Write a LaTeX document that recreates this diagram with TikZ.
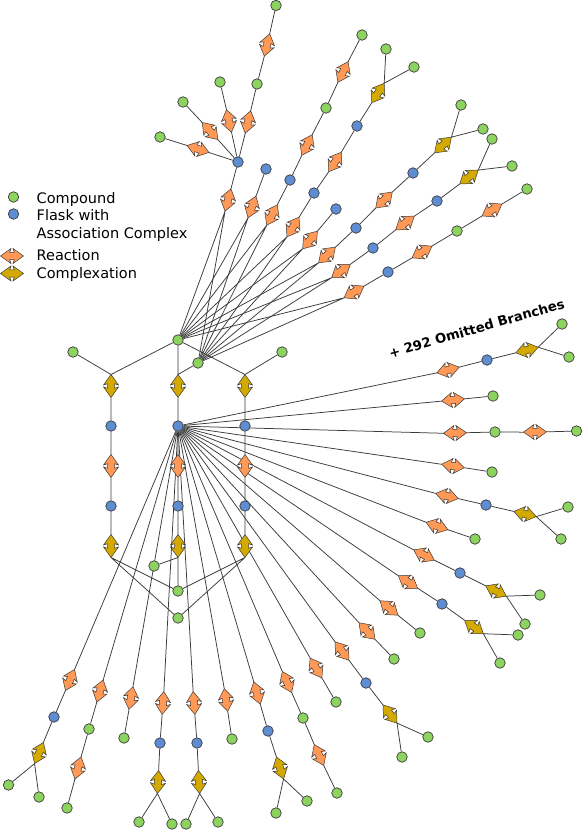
\documentclass[tikz,border=0pt]{standalone}
\usepackage{fontspec}
\newfontfamily\dejavu{DejaVu Sans}
\definecolor{cgreen}{HTML}{8DD35F}
\definecolor{cblue}{HTML}{5F8DD3}
\definecolor{corange}{HTML}{FF9955}
\definecolor{cgold}{HTML}{D4AA00}
\definecolor{cstroke}{HTML}{3A3A3A}
\pgfdeclarelayer{bg}
\pgfsetlayers{bg,main}
\tikzset{
  cmp/.style={circle, draw=cstroke, fill=cgreen, line width=0.7pt, minimum size=10.5pt, inner sep=0pt},
  flask/.style={circle, draw=cstroke, fill=cblue, line width=0.7pt, minimum size=10.5pt, inner sep=0pt},
  link/.style={draw=cstroke, line width=0.75pt},
  arwshape/.style={draw=cstroke, line width=0.5pt, line join=miter},
  legtext/.style={anchor=base west, inner sep=0pt, font=\dejavu\fontsize{14.5}{17}\selectfont}
}
% name, x, y, angle, colour
\newcommand\arw[5]{%
  \begin{scope}[shift={(#2,#3)}, rotate=#4]
    \filldraw[arwshape, fill=#5] (11.5,0) -- (1,7.5) -- (2.3,3.6) -- (-2.3,3.6) -- (-1,7.5) -- (-11.5,0)
      -- (-1,-7.5) -- (-2.3,-3.6) -- (2.3,-3.6) -- (1,-7.5) -- cycle;
    \coordinate (#1) at (0,0);
    \coordinate (#1-a) at (-11.5,0);
    \coordinate (#1-b) at (11.5,0);
  \end{scope}}
\newcommand\cpd[3]{\node[cmp] (#1) at (#2,#3) {};}
\newcommand\flk[3]{\node[flask] (#1) at (#2,#3) {};}
\newcommand\rxn[4]{\arw{#1}{#2}{#3}{#4}{corange}}
\newcommand\cpx[4]{\arw{#1}{#2}{#3}{#4}{cgold}}
\begin{document}
\begin{tikzpicture}[x=1pt,y=-1pt]
\useasboundingbox (0,0) rectangle (582,830);
\begin{pgfonlayer}{bg}
\fill[white] (0,0) rectangle (582,830);
\end{pgfonlayer}

% legend
\cpd{lg1}{13.5}{197}
\node[legtext] (lt1) at (36.5,203) {Compound};
\flk{lg2}{13.5}{214}
\node[legtext] (lt2) at (36.5,220) {Flask with};
\node[legtext] (lt3) at (36.5,238.5) {Association Complex};
\rxn{lg3}{12}{256}{0}
\node[legtext] (lt4) at (36.5,260) {Reaction};
\cpx{lg4}{12}{273.5}{0}
\node[legtext] (lt5) at (36.5,278) {Complexation};

\node[rotate=16, anchor=base, inner sep=0pt, font=\dejavu\bfseries\fontsize{13.2}{15}\selectfont] (om) at (478,333) {+ 292 Omitted Branches};

% central structure
\cpd{A}{178}{340}
\cpd{GL}{73}{352}
\cpd{GR}{282}{352}
\cpd{G2}{198}{363}
\cpx{xL1}{111}{386}{-90}
\cpx{xM1}{178}{386}{-90}
\cpx{xR1}{245}{386}{-90}
\flk{fL1}{111}{426}
\flk{B}{178}{426}
\flk{fR1}{245}{426}
\rxn{rL}{111}{466}{-90}
\rxn{rM}{178}{466}{-90}
\rxn{rR}{245}{466}{-90}
\flk{fL2}{111}{506}
\flk{fM2}{178}{506}
\flk{fR2}{245}{506}
\cpx{xL2}{111}{546}{-90}
\cpx{xM2}{178}{546}{-90}
\cpx{xR2}{245}{546}{-90}
\cpd{gB1}{154}{566}
\cpd{gB2}{178}{591}
\cpd{gB3}{178}{618}

% upper fan
\rxn{F1}{228}{200}{75.3}
\rxn{F2}{252}{207}{69.8}
\rxn{F3}{272}{215}{62.8}
\rxn{F4}{293}{227}{58.3}
\rxn{F5}{310}{240}{50}
\rxn{F6}{327}{255}{43}
\rxn{F7}{341}{271}{35.7}
\rxn{F8}{354}{292}{30.5}
\flk{C}{238}{162}
\rxn{u1}{198}{149}{162.2}
\cpd{gu1}{160}{137}
\rxn{u2}{210}{131}{132.5}
\cpd{gu2}{183}{102}
\rxn{u3}{229}{121}{102.7}
\cpd{gu3}{220}{82}
\rxn{u4}{248}{122}{76.3}
\cpd{gu4}{257}{84}
\rxn{u5}{267}{45}{76.5}
\cpd{gu5}{276}{5.5}
\flk{f2}{266}{169}
\flk{f3}{290}{180}
\rxn{v1}{307}{145}{63.4}
\cpd{gv1}{326}{108}
\rxn{v2}{343}{72}{63.7}
\cpd{gv2}{362}{35}
\flk{f4}{314}{193}
\rxn{w1}{335}{162}{57.3}
\flk{f4b}{357}{126}
\cpx{wx}{378}{93}{57.5}
\cpd{gw1}{386}{49}
\cpd{gw2}{414}{67}
\flk{f5}{336}{209}
\flk{f6}{356}{228}
\rxn{y1}{384}{200}{44}
\flk{f6b}{413}{173}
\cpx{yx}{443}{145}{43}
\cpd{gy1}{461}{105}
\cpd{gy2}{483}{129}
\flk{f7}{373}{248}
\rxn{z1}{405}{223}{36.3}
\flk{f7b}{437}{201}
\cpx{zx}{469}{177}{36.9}
\cpd{gz1}{492}{139}
\cpd{gz2}{512}{166}
\flk{f8}{388}{272}
\rxn{q1}{422}{252}{30.7}
\cpd{gq1}{457}{231}
\rxn{q2}{492}{210}{31}
\cpd{gq2}{527}{189}

% lower / right fan
\rxn{o1}{448}{370}{14.4}
\flk{fr1}{487}{360}
\cpx{k1}{527}{350}{14}
\cpd{gr1a}{562}{324}
\cpd{gr1b}{569}{357}
\rxn{o2}{453}{400}{5.7}
\cpd{gr2}{493}{396}
\rxn{o3}{455}{433}{1.4}
\cpd{gr3}{495}{432}
\rxn{p3}{535}{432}{0.7}
\cpd{gr3b}{576.5}{431}
\rxn{o4}{453}{466}{-8.7}
\cpd{gr4}{492}{472}
\rxn{o5}{447}{496}{-13}
\flk{fr5}{486}{505}
\cpx{k5}{525}{514}{-13}
\cpd{gr5a}{568}{507}
\cpd{gr5b}{561}{539}
\rxn{o6}{437}{526}{-18.9}
\cpd{gr6}{475}{539}
\rxn{o7}{424}{555}{-26.6}
\flk{fr7}{460}{573}
\cpx{k7}{496}{591}{-26.6}
\cpd{gr7a}{540}{595}
\cpd{gr7b}{525}{624}
\rxn{o8}{408}{582}{-32.9}
\flk{fr8}{442}{604}
\cpx{k8}{474}{627}{-35.7}
\cpd{gr8a}{518}{635}
\cpd{gr8b}{500}{663}
\rxn{o9}{389}{608}{-38.9}
\cpd{gr9}{420}{633}
\rxn{o10}{367}{631}{-46}
\cpd{gr10}{394}{659}
\rxn{o11}{342}{651}{-53.1}
\flk{fr11}{366}{683}
\cpx{k11}{390}{714}{-52.3}
\cpd{gr11a}{428}{737}
\cpd{gr11b}{402}{757}
\rxn{o12}{316}{668}{-59.5}
\cpd{gr12}{336}{702}
\rxn{o13}{287}{682}{-66}
\cpd{gr13}{303}{718}
\rxn{p13}{319}{755}{-65.6}
\cpd{gr13b}{337}{793}
\rxn{o14}{257}{693}{-73.9}
\flk{fr14}{268}{731}
\cpx{k14}{280}{768}{-72}
\cpd{gr14a}{276}{813}
\cpd{gr14b}{307}{801}
\rxn{o15}{226}{700}{-81.3}
\cpd{gr15}{232}{739}
\rxn{o16}{194}{703}{-85.7}
\flk{fr16}{197}{743}
\cpx{k16}{199}{782}{-87}
\cpd{gr16a}{186}{824}
\cpd{gr16b}{218}{822}
\rxn{o17}{163}{703}{-94.3}
\flk{fr17}{160}{743}
\cpx{k17}{158}{782}{-93}
\cpd{gr17a}{139}{822}
\cpd{gr17b}{172}{824}
\rxn{o18}{131}{698}{-99.9}
\cpd{gr18}{124}{738}
\rxn{o19}{100}{691}{-106}
\cpd{gr19}{89}{729}
\rxn{p19}{78}{768}{-105.6}
\cpd{gr19b}{67}{808}
\rxn{o20}{70}{680}{-113.4}
\flk{fr20}{54}{717}
\cpx{k20}{39}{753}{-112.6}
\cpd{gr20a}{8.5}{785}
\cpd{gr20b}{39}{797}

\begin{pgfonlayer}{bg}
% central
\draw[link] (GL) -- (xL1-a) (A) -- (xL1-a) (A) -- (xM1-a) (G2) -- (xM1-a) (A) -- (xR1-a) (GR) -- (xR1-a);
\draw[link] (xL1-b) -- (fL1) -- (rL-a) (rL-b) -- (fL2) -- (xL2-a) (xL2-b) -- (gB2) (xL2-b) -- (gB3);
\draw[link] (xM1-b) -- (B) -- (rM-a) (rM-b) -- (fM2) -- (xM2-a) (xM2-b) -- (gB1) (xM2-b) -- (gB2);
\draw[link] (xR1-b) -- (fR1) -- (rR-a) (rR-b) -- (fR2) -- (xR2-a) (xR2-b) -- (gB2) (xR2-b) -- (gB3);
% upper fan
\foreach \n in {F1,F2,F3,F4,F5,F6,F7,F8} {\draw[link] (A) -- (\n-a) (G2) -- (\n-a);}
\draw[link] (F1-b) -- (C);
\draw[link] (C) -- (u1-a) (u1-b) -- (gu1);
\draw[link] (C) -- (u2-a) (u2-b) -- (gu2);
\draw[link] (C) -- (u3-a) (u3-b) -- (gu3);
\draw[link] (C) -- (u4-a) (u4-b) -- (gu4) -- (u5-a) (u5-b) -- (gu5);
\draw[link] (F2-b) -- (f2);
\draw[link] (F3-b) -- (f3) -- (v1-a) (v1-b) -- (gv1) -- (v2-a) (v2-b) -- (gv2);
\draw[link] (F4-b) -- (f4) -- (w1-a) (w1-b) -- (f4b) -- (wx-a) (wx-b) -- (gw1) (wx-b) -- (gw2);
\draw[link] (F5-b) -- (f5);
\draw[link] (F6-b) -- (f6) -- (y1-a) (y1-b) -- (f6b) -- (yx-a) (yx-b) -- (gy1) (yx-b) -- (gy2);
\draw[link] (F7-b) -- (f7) -- (z1-a) (z1-b) -- (f7b) -- (zx-a) (zx-b) -- (gz1) (zx-b) -- (gz2);
\draw[link] (F8-b) -- (f8) -- (q1-a) (q1-b) -- (gq1) -- (q2-a) (q2-b) -- (gq2);
% lower fan
\foreach \i in {1,...,20} {\draw[link] (B) -- (o\i-a);}
\draw[link] (o1-b) -- (fr1) -- (k1-a) (k1-b) -- (gr1a) (k1-b) -- (gr1b);
\draw[link] (o2-b) -- (gr2);
\draw[link] (o3-b) -- (gr3) -- (p3-a) (p3-b) -- (gr3b);
\draw[link] (o4-b) -- (gr4);
\draw[link] (o5-b) -- (fr5) -- (k5-a) (k5-b) -- (gr5a) (k5-b) -- (gr5b);
\draw[link] (o6-b) -- (gr6);
\draw[link] (o7-b) -- (fr7) -- (k7-a) (k7-b) -- (gr7a) (k7-b) -- (gr7b);
\draw[link] (o8-b) -- (fr8) -- (k8-a) (k8-b) -- (gr8a) (k8-b) -- (gr8b);
\draw[link] (o9-b) -- (gr9);
\draw[link] (o10-b) -- (gr10);
\draw[link] (o11-b) -- (fr11) -- (k11-a) (k11-b) -- (gr11a) (k11-b) -- (gr11b);
\draw[link] (o12-b) -- (gr12);
\draw[link] (o13-b) -- (gr13) -- (p13-a) (p13-b) -- (gr13b);
\draw[link] (o14-b) -- (fr14) -- (k14-a) (k14-b) -- (gr14a) (k14-b) -- (gr14b);
\draw[link] (o15-b) -- (gr15);
\draw[link] (o16-b) -- (fr16) -- (k16-a) (k16-b) -- (gr16a) (k16-b) -- (gr16b);
\draw[link] (o17-b) -- (fr17) -- (k17-a) (k17-b) -- (gr17a) (k17-b) -- (gr17b);
\draw[link] (o18-b) -- (gr18);
\draw[link] (o19-b) -- (gr19) -- (p19-a) (p19-b) -- (gr19b);
\draw[link] (o20-b) -- (fr20) -- (k20-a) (k20-b) -- (gr20a) (k20-b) -- (gr20b);
\end{pgfonlayer}
\end{tikzpicture}
\end{document}
